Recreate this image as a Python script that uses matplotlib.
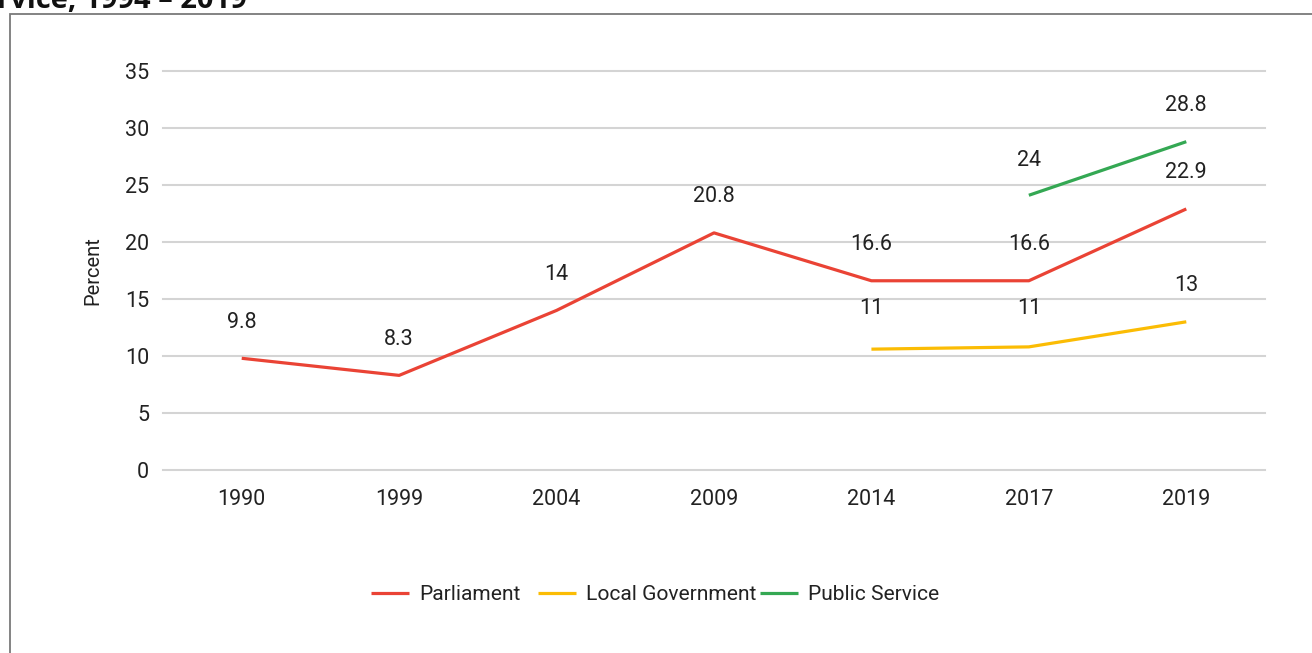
import matplotlib as mpl
mpl.use('Agg')
import matplotlib.pyplot as plt
from matplotlib.patches import Rectangle
from matplotlib.lines import Line2D

years = ['1990', '1999', '2004', '2009', '2014', '2017', '2019']

parliament = [9.8, 8.3, 14, 20.8, 16.6, 16.6, 22.9]
parliament_labels = ['9.8', '8.3', '14', '20.8', '16.6', '16.6', '22.9']

local_gov = [None, None, None, None, 10.6, 10.8, 13]
local_gov_labels = [None, None, None, None, '11', '11', '13']

public_service = [None, None, None, None, None, 24.1, 28.8]
public_service_labels = [None, None, None, None, None, '24', '28.8']

yticks = [0, 5, 10, 15, 20, 25, 30, 35]

plt.rcParams['font.family'] = ['Roboto', 'DejaVu Sans']
txt = '#222222'
W, H = 1312, 653

fig = plt.figure(figsize=(13.12, 6.53), dpi=100)
ax = fig.add_axes([163 / W, 1 - 470 / H, (1265 - 163) / W, (470 - 71) / H])

series = [
    ('Parliament', parliament, parliament_labels, '#EA4335'),
    ('Local Government', local_gov, local_gov_labels, '#FBBC04'),
    ('Public Service', public_service, public_service_labels, '#34A853'),
]

for name, vals, labs, col in series:
    xs = [i for i, v in enumerate(vals) if v is not None]
    ys = [v for v in vals if v is not None]
    ax.plot(xs, ys, color=col, lw=2.3, label=name, solid_capstyle='butt', zorder=3)
    for i, lab in enumerate(labs):
        if lab is None:
            continue
        ax.annotate(lab, (i, float(lab)), xytext=(0, 26), textcoords='offset points',
                    ha='center', va='center', fontsize=15.5, color=txt)

ax.set_xlim(-0.5, len(years) - 0.5)
ax.set_ylim(0, 35)
ax.set_yticks(yticks)
ax.set_xticks(range(len(years)))
ax.set_xticklabels(years)
ax.grid(axis='y', color='#d4d4d4', lw=1.5, clip_on=False)
ax.set_axisbelow(True)
for s in ax.spines.values():
    s.set_visible(False)
ax.tick_params(axis='both', length=0, labelsize=15.5, labelcolor=txt)
ax.tick_params(axis='x', pad=14)
ax.tick_params(axis='y', pad=10)
ax.set_ylabel('Percent', fontsize=14.5, color=txt, labelpad=16)

# legend, laid out like the original (fixed slots)
leg_x = [371, 538, 760]
leg_y = 1 - 593 / H
for (name, _, _, col), x0 in zip(series, leg_x):
    fig.add_artist(Line2D([x0 / W, (x0 + 38) / W], [leg_y, leg_y], color=col, lw=2.3,
                          transform=fig.transFigure, solid_capstyle='butt'))
    fig.text((x0 + 48) / W, leg_y - 2 / H, name, fontsize=15.1, color=txt,
             va='center', ha='left')

# outer frame
fig.patches.append(Rectangle((10 / W, -0.1), 1.2, 1 - 14 / H + 0.1,
                             transform=fig.transFigure, fill=False,
                             edgecolor='#7a7a7a', lw=1.3))

fig.text(-3 / W, 1 - 8 / H, 'rvice, 1994 \u2013 2019', fontsize=21, fontweight='bold',
         family=['Open Sans', 'DejaVu Sans'], color='#111111', va='baseline', ha='left')

fig.savefig('out.png', dpi=100)
